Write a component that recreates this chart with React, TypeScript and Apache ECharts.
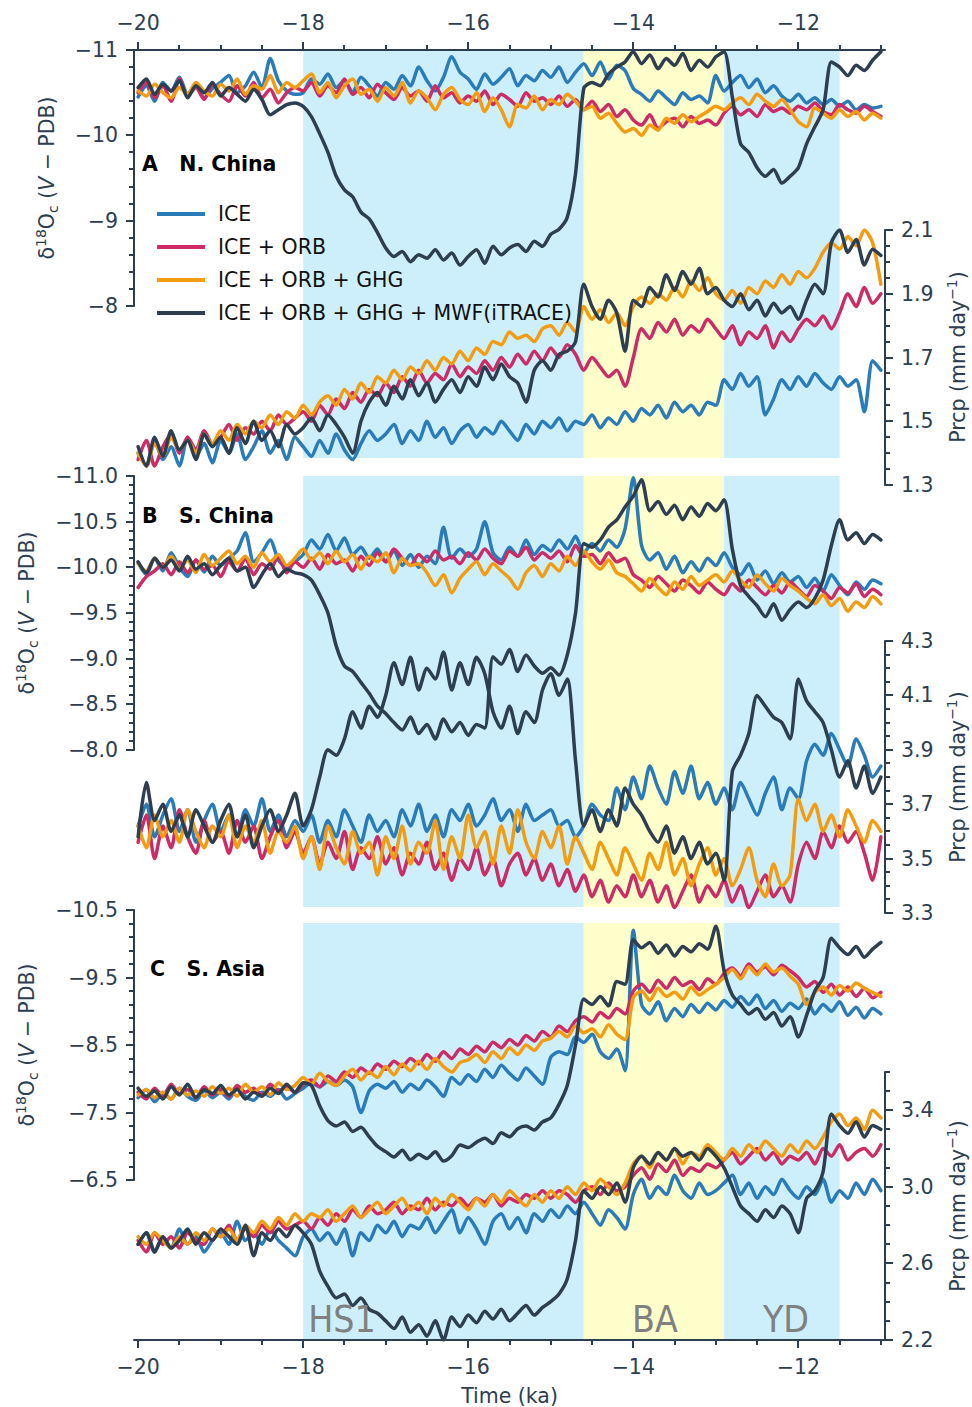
import React, { useEffect, useRef } from "react";
import * as echarts from "echarts";

// ---------- sampling times (ka) ----------
const TIME: number[] = Array.from({ length: 91 }, (_, i) => Math.round((-20 + 0.1 * i) * 10) / 10);

const NAMES = ["ICE", "ICE + ORB", "ICE + ORB + GHG", "ICE + ORB + GHG + MWF(iTRACE)"];

// ---------- Panel A: N. China ----------
const A_D_ICE = [-10.45,-10.58,-10.40,-10.62,-10.52,-10.68,-10.48,-10.60,-10.44,-10.55,
-10.62,-10.70,-10.50,-10.58,-10.74,-10.56,-10.90,-10.64,-10.52,-10.48,
-10.50,-10.66,-10.60,-10.72,-10.56,-10.64,-10.50,-10.68,-10.58,-10.46,
-10.62,-10.54,-10.70,-10.58,-10.80,-10.64,-10.52,-10.68,-10.92,-10.74,
-10.66,-10.54,-10.72,-10.60,-10.68,-10.78,-10.58,-10.70,-10.64,-10.76,
-10.68,-10.80,-10.62,-10.74,-10.84,-10.70,-10.86,-10.66,-10.82,-10.76,
-10.55,-10.48,-10.40,-10.52,-10.44,-10.36,-10.50,-10.42,-10.46,-10.38,
-10.70,-10.52,-10.62,-10.70,-10.56,-10.66,-10.50,-10.58,-10.46,-10.40,
-10.48,-10.38,-10.44,-10.36,-10.42,-10.34,-10.40,-10.30,-10.36,-10.32,-10.34];
const A_D_ORB = [-10.50,-10.62,-10.44,-10.58,-10.40,-10.66,-10.46,-10.56,-10.42,-10.60,
-10.48,-10.40,-10.58,-10.46,-10.62,-10.44,-10.54,-10.38,-10.50,-10.56,
-10.52,-10.62,-10.46,-10.58,-10.50,-10.66,-10.48,-10.56,-10.44,-10.60,
-10.50,-10.42,-10.56,-10.46,-10.52,-10.40,-10.58,-10.44,-10.50,-10.38,
-10.46,-10.40,-10.52,-10.36,-10.48,-10.42,-10.34,-10.50,-10.40,-10.44,
-10.36,-10.46,-10.34,-10.42,-10.30,-10.40,-10.28,-10.36,-10.22,-10.30,
-10.18,-10.12,-10.24,-10.08,-10.16,-10.20,-10.10,-10.22,-10.14,-10.18,
-10.12,-10.26,-10.34,-10.24,-10.30,-10.22,-10.36,-10.28,-10.32,-10.26,
-10.34,-10.30,-10.38,-10.28,-10.24,-10.36,-10.30,-10.26,-10.34,-10.28,-10.22];
const A_D_GHG = [-10.52,-10.46,-10.60,-10.50,-10.44,-10.56,-10.48,-10.62,-10.52,-10.46,
-10.60,-10.52,-10.66,-10.48,-10.58,-10.54,-10.70,-10.50,-10.62,-10.56,
-10.64,-10.72,-10.50,-10.62,-10.44,-10.58,-10.66,-10.48,-10.54,-10.40,
-10.56,-10.46,-10.62,-10.38,-10.52,-10.44,-10.30,-10.48,-10.56,-10.42,
-10.36,-10.50,-10.28,-10.44,-10.30,-10.10,-10.36,-10.32,-10.46,-10.30,
-10.42,-10.36,-10.48,-10.40,-10.30,-10.34,-10.20,-10.26,-10.14,-10.04,
-10.08,-10.00,-10.12,-10.06,-10.20,-10.14,-10.24,-10.16,-10.22,-10.28,
-10.34,-10.30,-10.38,-10.44,-10.36,-10.48,-10.40,-10.34,-10.42,-10.30,
-10.16,-10.10,-10.32,-10.26,-10.20,-10.30,-10.22,-10.28,-10.18,-10.26,-10.20];
const A_D_MWF = [-10.56,-10.66,-10.48,-10.60,-10.52,-10.64,-10.44,-10.58,-10.50,-10.62,
-10.46,-10.56,-10.48,-10.40,-10.54,-10.42,-10.24,-10.30,-10.36,-10.38,
-10.34,-10.22,-10.02,-9.80,-9.52,-9.36,-9.28,-9.10,-9.02,-8.86,
-8.68,-8.58,-8.64,-8.52,-8.60,-8.56,-8.66,-8.54,-8.62,-8.48,
-8.58,-8.66,-8.50,-8.70,-8.60,-8.68,-8.72,-8.64,-8.76,-8.70,
-8.84,-8.90,-9.04,-9.55,-10.55,-10.62,-10.58,-10.72,-10.80,-10.86,
-10.98,-10.84,-10.94,-10.78,-10.90,-10.82,-10.96,-10.76,-10.88,-10.80,
-10.92,-10.98,-10.45,-9.90,-9.80,-9.62,-9.52,-9.60,-9.44,-9.52,
-9.62,-9.90,-10.10,-10.30,-10.86,-10.80,-10.70,-10.82,-10.76,-10.88,-10.98];
const A_P_ICE = [1.40,1.36,1.44,1.38,1.42,1.36,1.45,1.39,1.43,1.37,
1.44,1.40,1.46,1.38,1.42,1.47,1.40,1.44,1.38,1.45,
1.42,1.39,1.44,1.40,1.46,1.41,1.38,1.43,1.47,1.44,
1.46,1.49,1.43,1.47,1.44,1.50,1.45,1.48,1.43,1.47,
1.49,1.45,1.48,1.46,1.50,1.47,1.44,1.49,1.46,1.50,
1.48,1.51,1.47,1.50,1.49,1.52,1.48,1.51,1.49,1.53,
1.50,1.54,1.52,1.55,1.51,1.56,1.53,1.55,1.52,1.56,
1.55,1.63,1.60,1.65,1.61,1.64,1.52,1.57,1.63,1.60,
1.64,1.61,1.65,1.62,1.60,1.64,1.61,1.63,1.53,1.69,1.66];
const A_P_ORB = [1.38,1.44,1.36,1.42,1.46,1.40,1.45,1.41,1.47,1.43,
1.45,1.49,1.44,1.48,1.46,1.50,1.47,1.52,1.49,1.51,
1.53,1.50,1.55,1.52,1.57,1.54,1.59,1.56,1.60,1.58,
1.62,1.59,1.64,1.61,1.66,1.62,1.65,1.63,1.68,1.64,
1.67,1.65,1.69,1.66,1.70,1.67,1.71,1.68,1.72,1.69,
1.73,1.70,1.74,1.71,1.66,1.70,1.67,1.64,1.66,1.61,
1.70,1.79,1.76,1.81,1.78,1.82,1.77,1.80,1.78,1.82,
1.79,1.76,1.80,1.74,1.78,1.76,1.80,1.73,1.78,1.75,
1.79,1.82,1.80,1.83,1.79,1.84,1.90,1.86,1.92,1.87,1.90];
const A_P_GHG = [1.40,1.36,1.43,1.39,1.45,1.41,1.44,1.40,1.46,1.43,
1.47,1.44,1.49,1.46,1.50,1.48,1.52,1.49,1.53,1.51,
1.55,1.52,1.56,1.58,1.55,1.60,1.57,1.62,1.59,1.64,
1.62,1.66,1.63,1.67,1.65,1.69,1.66,1.70,1.68,1.72,
1.69,1.73,1.71,1.75,1.74,1.78,1.76,1.77,1.75,1.79,
1.80,1.77,1.81,1.78,1.86,1.82,1.85,1.81,1.84,1.80,
1.86,1.89,1.87,1.90,1.88,1.92,1.89,1.94,1.91,1.95,
1.90,1.88,1.91,1.87,1.92,1.90,1.94,1.92,1.96,1.93,
1.97,1.95,1.98,2.03,2.06,2.04,2.08,2.05,2.10,2.06,1.93];
const A_P_MWF = [1.42,1.36,1.45,1.39,1.47,1.41,1.44,1.38,1.46,1.42,
1.45,1.40,1.48,1.43,1.50,1.44,1.47,1.42,1.49,1.46,
1.48,1.51,1.47,1.52,1.49,1.45,1.40,1.50,1.56,1.59,
1.55,1.61,1.57,1.63,1.58,1.62,1.56,1.60,1.63,1.59,
1.64,1.61,1.67,1.63,1.68,1.64,1.62,1.56,1.66,1.69,
1.66,1.71,1.72,1.75,1.93,1.86,1.82,1.88,1.84,1.72,
1.88,1.86,1.92,1.89,1.96,1.91,1.97,1.93,1.98,1.90,
1.92,1.88,1.86,1.90,1.85,1.88,1.83,1.87,1.84,1.86,
1.82,1.88,1.93,1.90,2.06,2.10,2.03,2.07,1.99,2.04,2.02];

// ---------- Panel B: S. China ----------
const B_D_ICE = [-10.05,-9.92,-10.10,-9.96,-10.16,-10.00,-9.90,-10.08,-9.95,-10.12,
-10.02,-10.10,-10.18,-10.38,-10.06,-10.16,-10.30,-10.08,-10.00,-10.06,
-10.14,-10.30,-10.20,-10.36,-10.18,-10.32,-10.14,-10.22,-10.10,-10.20,
-10.06,-10.18,-10.02,-10.14,-10.00,-10.12,-10.04,-10.44,-10.10,-10.20,
-10.12,-10.20,-10.50,-10.16,-10.08,-10.22,-10.12,-10.30,-10.14,-10.24,
-10.18,-10.30,-10.20,-10.34,-10.16,-10.26,-10.18,-10.30,-10.22,-10.42,
-10.98,-10.24,-10.08,-10.16,-9.98,-10.12,-9.94,-10.06,-9.96,-10.10,
-10.02,-10.16,-10.00,-9.92,-10.04,-9.86,-9.96,-9.82,-9.94,-9.84,
-9.90,-9.78,-9.88,-9.74,-9.92,-9.80,-9.70,-9.84,-9.76,-9.86,-9.82];
const B_D_ORB = [-9.78,-9.90,-9.96,-10.04,-9.92,-10.06,-9.94,-10.08,-9.98,-10.02,
-9.90,-10.06,-9.96,-10.10,-9.92,-10.04,-9.98,-10.12,-9.94,-10.06,
-10.00,-10.10,-9.98,-10.14,-10.04,-10.08,-9.96,-10.12,-10.02,-10.16,
-10.06,-10.20,-10.10,-10.02,-10.14,-10.06,-10.18,-10.08,-10.12,-10.04,
-10.16,-10.08,-10.20,-10.10,-10.04,-10.18,-10.12,-10.22,-10.08,-10.16,
-10.10,-10.18,-10.06,-10.24,-10.12,-10.14,-10.04,-10.16,-10.06,-10.10,
-9.92,-9.86,-9.78,-9.90,-9.82,-9.74,-9.86,-9.80,-9.72,-9.84,
-9.76,-9.70,-9.82,-9.74,-9.86,-9.78,-9.70,-9.80,-9.72,-9.84,
-9.76,-9.68,-9.80,-9.74,-9.66,-9.78,-9.72,-9.82,-9.68,-9.76,-9.70];
const B_D_GHG = [-10.04,-9.96,-10.10,-10.00,-10.12,-9.98,-10.08,-9.94,-10.14,-10.02,
-10.10,-10.18,-10.04,-10.12,-10.00,-10.16,-10.06,-10.14,-10.02,-10.10,
-10.20,-10.08,-10.16,-10.04,-10.18,-10.06,-10.14,-9.98,-10.12,-10.06,
-10.16,-9.94,-10.10,-10.02,-10.04,-9.94,-9.80,-9.92,-9.72,-9.88,
-9.98,-10.06,-9.92,-10.04,-9.96,-9.88,-9.76,-9.94,-10.02,-9.90,
-10.04,-9.96,-10.12,-10.02,-10.18,-10.06,-9.98,-10.08,-9.94,-9.90,
-9.82,-9.74,-9.88,-9.78,-9.70,-9.84,-9.76,-9.90,-9.80,-9.86,
-9.92,-9.84,-9.96,-9.86,-9.78,-9.92,-9.82,-9.74,-9.88,-9.80,
-9.74,-9.66,-9.60,-9.70,-9.58,-9.66,-9.52,-9.62,-9.56,-9.68,-9.60];
const B_D_MWF = [-10.06,-9.94,-10.10,-10.00,-10.08,-9.96,-10.12,-9.98,-10.04,-9.92,
-10.02,-10.10,-9.96,-10.00,-9.78,-9.92,-10.04,-9.90,-9.98,-9.94,
-9.92,-9.86,-9.70,-9.50,-9.14,-8.92,-8.86,-8.74,-8.62,-8.48,
-8.40,-8.30,-8.22,-8.36,-8.18,-8.28,-8.12,-8.34,-8.20,-8.30,
-8.16,-8.28,-8.24,-9.02,-8.94,-9.10,-8.86,-9.04,-8.92,-8.84,
-8.90,-8.82,-9.04,-9.50,-10.26,-10.22,-10.30,-10.44,-10.52,-10.66,
-10.78,-10.96,-10.62,-10.72,-10.58,-10.68,-10.52,-10.66,-10.56,-10.70,
-10.62,-10.74,-10.20,-9.80,-9.68,-9.58,-9.46,-9.60,-9.42,-9.54,
-9.62,-9.56,-9.66,-9.86,-10.24,-10.52,-10.30,-10.38,-10.26,-10.36,-10.30];
const B_P_ICE = [3.62,3.70,3.58,3.66,3.72,3.60,3.68,3.56,3.64,3.70,
3.60,3.66,3.58,3.68,3.62,3.72,3.60,3.66,3.58,3.64,
3.60,3.66,3.56,3.64,3.58,3.68,3.62,3.56,3.66,3.60,
3.64,3.58,3.68,3.62,3.70,3.60,3.66,3.58,3.68,3.64,
3.70,3.62,3.66,3.72,3.64,3.68,3.60,3.70,3.64,3.66,
3.68,3.62,3.64,3.58,3.62,3.70,3.66,3.64,3.76,3.68,
3.80,3.72,3.84,3.76,3.70,3.82,3.74,3.84,3.72,3.78,
3.70,3.76,3.68,3.78,3.72,3.66,3.74,3.80,3.68,3.76,
3.72,3.86,3.92,3.88,3.96,3.90,3.84,3.94,3.88,3.80,3.84];
const B_P_ORB = [3.56,3.66,3.50,3.62,3.54,3.68,3.58,3.52,3.64,3.56,
3.60,3.52,3.64,3.56,3.62,3.50,3.58,3.64,3.54,3.60,
3.52,3.58,3.48,3.56,3.50,3.60,3.46,3.54,3.50,3.58,
3.48,3.54,3.44,3.52,3.48,3.56,3.46,3.52,3.42,3.50,
3.46,3.54,3.44,3.50,3.40,3.48,3.52,3.44,3.50,3.42,
3.48,3.40,3.46,3.38,3.44,3.36,3.42,3.34,3.40,3.36,
3.44,3.36,3.42,3.34,3.40,3.32,3.38,3.44,3.34,3.40,
3.36,3.42,3.34,3.40,3.32,3.38,3.44,3.36,3.40,3.34,
3.48,3.56,3.50,3.60,3.54,3.62,3.56,3.60,3.52,3.42,3.58];
const B_P_GHG = [3.62,3.54,3.66,3.58,3.64,3.56,3.68,3.60,3.54,3.62,
3.58,3.66,3.54,3.62,3.56,3.64,3.52,3.60,3.56,3.62,
3.50,3.58,3.46,3.62,3.54,3.48,3.60,3.52,3.56,3.44,
3.58,3.50,3.62,3.48,3.56,3.52,3.64,3.46,3.58,3.50,
3.66,3.54,3.60,3.48,3.62,3.52,3.68,3.56,3.50,3.60,
3.54,3.62,3.48,3.58,3.52,3.46,3.56,3.50,3.44,3.54,
3.48,3.42,3.52,3.46,3.56,3.44,3.50,3.40,3.48,3.54,
3.44,3.50,3.40,3.46,3.54,3.42,3.36,3.48,3.40,3.44,
3.72,3.64,3.70,3.60,3.66,3.58,3.68,3.62,3.56,3.64,3.60];
const B_P_MWF = [3.58,3.78,3.64,3.70,3.60,3.66,3.58,3.68,3.62,3.56,
3.64,3.70,3.58,3.66,3.54,3.62,3.68,3.60,3.66,3.74,
3.62,3.68,3.80,3.90,3.88,3.94,4.04,3.98,4.06,4.02,
4.10,4.22,4.14,4.24,4.12,4.20,4.16,4.26,4.12,4.22,
4.14,4.24,4.18,4.04,3.98,4.06,3.96,4.04,4.00,4.12,
4.18,4.10,4.16,3.86,3.62,3.68,3.60,3.68,3.62,3.76,
3.70,3.66,3.60,3.56,3.62,3.52,3.58,3.50,3.56,3.48,
3.52,3.42,3.82,3.88,3.96,4.10,4.06,4.02,4.00,3.94,
4.16,4.08,4.04,4.00,3.90,3.80,3.86,3.76,3.84,3.74,3.80];

// ---------- Panel C: S. Asia ----------
const C_D_ICE = [-7.72,-7.84,-7.66,-7.78,-7.70,-7.86,-7.74,-7.68,-7.82,-7.72,
-7.80,-7.70,-7.86,-7.74,-7.68,-7.80,-7.74,-7.84,-7.70,-7.78,
-7.86,-7.94,-7.88,-7.96,-7.90,-7.98,-7.88,-7.50,-7.82,-7.92,
-7.86,-7.96,-7.80,-7.92,-7.84,-7.98,-7.88,-7.74,-8.02,-7.92,
-8.06,-7.96,-8.14,-8.02,-8.20,-8.08,-7.98,-8.16,-8.04,-7.92,
-8.32,-8.40,-8.36,-8.62,-8.54,-8.66,-8.40,-8.30,-8.44,-8.12,
-10.20,-9.10,-8.96,-9.14,-8.86,-9.04,-8.92,-9.10,-8.98,-9.12,
-9.02,-9.16,-9.06,-9.22,-9.10,-9.24,-9.04,-9.16,-9.00,-9.12,
-9.04,-9.18,-8.96,-9.10,-9.00,-9.14,-8.94,-9.06,-8.90,-9.04,-8.96];
const C_D_ORB = [-7.80,-7.70,-7.86,-7.74,-7.92,-7.78,-7.84,-7.72,-7.88,-7.76,
-7.84,-7.74,-7.90,-7.80,-7.86,-7.76,-7.92,-7.82,-7.88,-7.80,
-7.92,-7.98,-7.88,-8.04,-7.96,-8.10,-8.02,-8.16,-8.08,-8.22,
-8.14,-8.26,-8.18,-8.30,-8.22,-8.36,-8.26,-8.40,-8.30,-8.44,
-8.36,-8.48,-8.40,-8.54,-8.46,-8.58,-8.50,-8.64,-8.56,-8.70,
-8.62,-8.78,-8.70,-8.86,-8.92,-8.84,-8.98,-8.90,-9.04,-8.96,
-9.30,-9.40,-9.28,-9.46,-9.34,-9.50,-9.38,-9.44,-9.32,-9.48,
-9.40,-9.56,-9.64,-9.52,-9.70,-9.58,-9.66,-9.54,-9.68,-9.60,
-9.50,-9.36,-9.44,-9.28,-9.40,-9.24,-9.36,-9.22,-9.34,-9.20,-9.28];
const C_D_GHG = [-7.76,-7.84,-7.72,-7.80,-7.70,-7.86,-7.76,-7.82,-7.74,-7.88,
-7.78,-7.86,-7.74,-7.92,-7.80,-7.88,-7.76,-7.94,-7.84,-7.90,
-8.02,-7.92,-8.08,-7.96,-7.90,-8.04,-8.14,-7.98,-8.10,-8.02,
-8.18,-8.06,-8.22,-8.12,-8.26,-8.14,-8.30,-8.18,-8.10,-8.24,
-8.28,-8.36,-8.24,-8.40,-8.30,-8.46,-8.36,-8.50,-8.42,-8.56,
-8.60,-8.70,-8.62,-8.78,-8.68,-8.74,-8.62,-8.80,-8.66,-8.58,
-9.20,-9.30,-9.16,-9.34,-9.22,-9.28,-9.18,-9.36,-9.24,-9.32,
-9.40,-9.50,-9.62,-9.48,-9.66,-9.54,-9.70,-9.58,-9.64,-9.52,
-9.40,-9.10,-9.28,-9.36,-9.24,-9.38,-9.30,-9.42,-9.34,-9.28,-9.22];
const C_D_MWF = [-7.86,-7.74,-7.82,-7.70,-7.88,-7.76,-7.92,-7.72,-7.84,-7.78,
-7.90,-7.76,-7.84,-7.70,-7.80,-7.74,-7.86,-7.78,-7.92,-7.80,
-7.94,-7.90,-7.60,-7.38,-7.30,-7.36,-7.22,-7.28,-7.14,-7.00,
-6.92,-6.84,-6.94,-6.80,-6.88,-6.82,-6.92,-6.78,-6.86,-7.02,
-6.98,-7.06,-7.12,-7.04,-7.20,-7.14,-7.26,-7.30,-7.24,-7.36,
-7.42,-7.62,-7.90,-8.50,-9.18,-9.10,-9.22,-9.08,-9.44,-9.40,
-10.06,-9.94,-10.02,-9.86,-9.98,-9.82,-9.96,-9.88,-10.00,-9.92,
-10.26,-9.60,-9.24,-9.10,-8.96,-9.04,-8.88,-8.98,-8.78,-8.92,
-8.62,-8.94,-9.30,-9.50,-10.08,-9.94,-9.84,-9.96,-9.80,-9.92,-10.02];
const C_P_ICE = [2.70,2.76,2.66,2.74,2.68,2.78,2.70,2.74,2.66,2.72,
2.76,2.70,2.82,2.72,2.76,2.70,2.78,2.72,2.68,2.64,
2.74,2.78,2.72,2.76,2.70,2.78,2.64,2.76,2.72,2.80,
2.76,2.82,2.74,2.80,2.78,2.84,2.76,2.82,2.88,2.76,
2.84,2.78,2.70,2.82,2.86,2.78,2.84,2.76,2.86,2.82,
2.88,2.84,2.90,2.86,2.92,2.86,2.80,2.88,2.84,2.78,
2.96,3.04,2.94,3.00,2.96,3.06,2.98,2.94,3.02,2.96,
2.98,3.02,3.06,2.96,3.02,2.94,3.00,2.96,3.04,2.98,
2.94,3.00,2.96,3.04,2.92,2.98,2.94,3.02,2.96,3.04,2.98];
const C_P_ORB = [2.72,2.66,2.76,2.70,2.74,2.68,2.76,2.72,2.70,2.78,
2.74,2.80,2.72,2.78,2.74,2.80,2.76,2.82,2.78,2.80,
2.82,2.78,2.84,2.80,2.86,2.82,2.88,2.84,2.90,2.86,
2.88,2.92,2.86,2.90,2.88,2.94,2.88,2.92,2.90,2.94,
2.90,2.94,2.92,2.96,2.90,2.94,2.92,2.96,2.94,2.98,
2.94,2.98,2.96,2.92,2.98,3.00,2.96,3.02,2.98,3.00,
3.06,3.10,3.04,3.12,3.08,3.14,3.06,3.10,3.08,3.12,
3.10,3.14,3.18,3.12,3.16,3.20,3.14,3.18,3.12,3.16,
3.14,3.18,3.12,3.20,3.16,3.22,3.14,3.18,3.20,3.16,3.22];
const C_P_GHG = [2.74,2.70,2.76,2.72,2.68,2.74,2.70,2.76,2.72,2.78,
2.74,2.78,2.72,2.80,2.76,2.82,2.78,2.84,2.80,2.86,
2.82,2.86,2.84,2.88,2.82,2.86,2.90,2.84,2.88,2.92,
2.86,2.90,2.94,2.88,2.92,2.86,2.94,2.90,2.96,2.92,
2.88,2.94,2.90,2.96,2.92,2.98,2.94,2.90,2.96,2.92,
2.98,2.94,3.00,2.96,3.02,2.98,3.04,3.00,2.96,3.02,
3.12,3.16,3.10,3.18,3.14,3.20,3.12,3.18,3.16,3.22,
3.18,3.14,3.20,3.16,3.22,3.18,3.24,3.20,3.16,3.22,
3.18,3.24,3.20,3.26,3.34,3.38,3.32,3.36,3.30,3.40,3.36];
const C_P_MWF = [2.70,2.76,2.66,2.74,2.68,2.72,2.78,2.70,2.76,2.72,
2.78,2.74,2.70,2.80,2.64,2.76,2.72,2.78,2.74,2.80,
2.76,2.70,2.56,2.48,2.42,2.44,2.38,2.42,2.36,2.34,
2.30,2.26,2.32,2.24,2.28,2.22,2.30,2.20,2.32,2.27,
2.33,2.29,2.35,2.31,2.36,2.30,2.34,2.38,2.33,2.37,
2.40,2.44,2.52,2.72,2.98,2.94,3.00,2.96,3.02,2.92,
3.10,3.16,3.12,3.18,3.14,3.20,3.16,3.18,3.14,3.20,
3.16,3.10,3.00,2.90,2.86,2.82,2.88,2.84,2.90,2.86,
2.76,2.94,2.98,3.08,3.38,3.32,3.28,3.34,3.26,3.32,3.30];

// ---------- periods ----------
const PERIOD_NAMES = ["HS1", "BA", "YD"];
const PERIOD_START = [-18, -14.6, -12.9];
const PERIOD_END = [-14.6, -12.9, -11.5];

// ---------- tick labels ----------
const X_MAJOR = [-20, -18, -16, -14, -12];
const A_D_MAJOR = [-11, -10, -9, -8];
const A_P_MAJOR = [1.3, 1.5, 1.7, 1.9, 2.1];
const B_D_MAJOR = [-11, -10.5, -10, -9.5, -9, -8.5, -8];
const B_P_MAJOR = [3.3, 3.5, 3.7, 3.9, 4.1, 4.3];
const C_D_MAJOR = [-10.5, -9.5, -8.5, -7.5, -6.5];
const C_P_MAJOR = [2.2, 2.6, 3.0, 3.4];

// ---------- styles ----------
const AX = "#2c3e50";
const FONT = "DejaVu Sans";
const FS = 20.5;
const COLORS = ["#2a7bb9", "#cc2b66", "#f39c12", "#2c3e50"];
const PERIOD_COLORS = ["#cdeffc", "#ffffcc", "#cdeffc"];
const LW = 3.5;

function steps(min: number, max: number, step: number): number[] {
  const n = Math.round((max - min) / step);
  const out: number[] = [];
  for (let i = 0; i <= n; i++) out.push(Math.round((min + i * step) * 1000) / 1000);
  return out;
}
function minorOf(min: number, max: number, step: number, major: number[]): number[] {
  return steps(min, max, step).filter((v) => !major.some((m) => Math.abs(m - v) < 1e-6));
}
const fmt = (v: number, d: number) => Number(v).toFixed(d).replace("-", "\u2212");

const X_MIN = -20.05, X_MAX = -10.95;
const L = 134, R = 87, W = 972;
const GRID_BOXES = [
  { top: 50, height: 408 },
  { top: 476, height: 431 },
  { top: 923, height: 417 },
  { top: 50, height: 256 },
  { top: 230, height: 255 },
  { top: 476, height: 274 },
  { top: 641, height: 272 },
  { top: 910, height: 270 },
  { top: 1072, height: 268 },
];

export default function App() {
  const ref = useRef<HTMLDivElement>(null);
  useEffect(() => {
    document.body.style.margin = "0";
    const chart = echarts.init(ref.current!, null, { renderer: "svg" });

    const grids: any[] = GRID_BOXES.map((g) => ({ left: L, right: R, top: g.top, height: g.height, containLabel: false }));

    const lineStyleAx = { color: AX, width: 2 };
    const xAxes: any[] = [];
    for (let g = 0; g < 9; g++) {
      if (g === 0 || g === 2) {
        const top = g === 0;
        xAxes.push({
          type: "value", gridIndex: g, min: X_MIN, max: X_MAX, position: top ? "top" : "bottom", z: 5,
          axisLine: { show: true, onZero: false, lineStyle: lineStyleAx },
          axisTick: { show: false },
          axisLabel: { show: true, customValues: X_MAJOR, formatter: (v: number) => fmt(v, 0), color: AX, fontSize: FS, fontFamily: FONT, margin: top ? 17 : 16 },
          splitLine: { show: false },
          name: top ? "" : "Time (ka)",
          nameLocation: "middle", nameGap: 45,
          nameTextStyle: { color: AX, fontSize: FS, fontFamily: FONT },
        });
      } else {
        xAxes.push({ type: "value", gridIndex: g, min: X_MIN, max: X_MAX, show: false, axisLine: { onZero: false } });
      }
    }

    const yAxes: any[] = [];
    for (let g = 0; g < 3; g++) yAxes.push({ type: "value", gridIndex: g, min: 0, max: 1, show: false, axisLine: { onZero: false } });

    const tickSpecs: any[] = [];
    const addY = (g: number, min: number, max: number, inverse: boolean, position: string, major: number[], minorStep: number, dec: number) => {
      const idx = yAxes.length;
      yAxes.push({
        type: "value", gridIndex: g, min, max, inverse, position, z: 5,
        axisLine: { show: true, onZero: false, lineStyle: lineStyleAx },
        axisTick: { show: false },
        axisLabel: { show: true, customValues: major, formatter: (v: number) => fmt(v, dec), color: AX, fontSize: FS, fontFamily: FONT, margin: 16 },
        splitLine: { show: false },
      });
      tickSpecs.push({ dim: "y", grid: g, axis: idx, min, max, inverse, side: position === "left" ? -1 : 1, major, minor: minorOf(min, max, minorStep, major) });
      return idx;
    };

    const panels = [
      { d: [-11, -8, A_D_MAJOR, 0.2, 0], p: [1.3, 2.1, A_P_MAJOR, 0.05, 1], dData: [A_D_ICE, A_D_ORB, A_D_GHG, A_D_MWF], pData: [A_P_ICE, A_P_ORB, A_P_GHG, A_P_MWF] },
      { d: [-11, -8, B_D_MAJOR, 0.1, 1], p: [3.3, 4.3, B_P_MAJOR, 0.05, 1], dData: [B_D_ICE, B_D_ORB, B_D_GHG, B_D_MWF], pData: [B_P_ICE, B_P_ORB, B_P_GHG, B_P_MWF] },
      { d: [-10.5, -6.5, C_D_MAJOR, 0.2, 1], p: [2.2, 3.6, C_P_MAJOR, 0.1, 1], dData: [C_D_ICE, C_D_ORB, C_D_GHG, C_D_MWF], pData: [C_P_ICE, C_P_ORB, C_P_GHG, C_P_MWF] },
    ];

    const series: any[] = [];
    for (let g = 0; g < 3; g++) {
      series.push({
        type: "line", xAxisIndex: g, yAxisIndex: g, data: [[X_MIN, 0.5]], symbol: "none",
        lineStyle: { opacity: 0 }, silent: true, z: 1,
        markArea: {
          silent: true,
          data: PERIOD_START.map((s, i) => [
            { xAxis: s, itemStyle: { color: PERIOD_COLORS[i], opacity: 1 } },
            { xAxis: PERIOD_END[i] },
          ]),
        },
      });
    }

    const mkLine = (name: string, color: string, xi: number, yi: number, arr: number[]) => ({
      type: "line", name, xAxisIndex: xi, yAxisIndex: yi,
      data: TIME.map((t, i) => [t, arr[i]]),
      symbol: "none", showSymbol: false, clip: true, silent: true, z: 3, smooth: 0.25,
      lineStyle: { width: LW, color, join: "round", cap: "round" }, itemStyle: { color },
    });

    panels.forEach((p: any, k) => {
      const dg = 3 + 2 * k, pg = 4 + 2 * k;
      const dY = addY(dg, p.d[0], p.d[1], true, "left", p.d[2], p.d[3], p.d[4]);
      const pY = addY(pg, p.p[0], p.p[1], false, "right", p.p[2], p.p[3], p.p[4]);
      p.dData.forEach((arr: number[], e: number) => series.push(mkLine(NAMES[e], COLORS[e], dg, dY, arr)));
      p.pData.forEach((arr: number[], e: number) => series.push(mkLine(NAMES[e], COLORS[e], pg, pY, arr)));
    });
    const xMinor = minorOf(-20, -11, 0.5, X_MAJOR);
    tickSpecs.push({ dim: "x", grid: 0, side: -1, major: X_MAJOR, minor: xMinor });
    tickSpecs.push({ dim: "x", grid: 2, side: 1, major: X_MAJOR, minor: xMinor });

    const richBase = { fontSize: FS, fontFamily: FONT, fill: AX, color: AX, lineHeight: 26 };
    const richSup = { fontSize: 14, fontFamily: FONT, fill: AX, color: AX, lineHeight: 14, verticalAlign: "top" };
    const richSub = { fontSize: 14, fontFamily: FONT, fill: AX, color: AX, lineHeight: 14, verticalAlign: "bottom" };
    const richIt = { ...richBase, fontStyle: "italic" };
    const dTitle = (x: number, y: number) => ({
      type: "text", x, y, rotation: Math.PI / 2, z: 100,
      style: {
        text: "{n|δ}{sup|18}{n|O}{sub|c}{n| (}{i|V}{n| − PDB)}",
        rich: { n: richBase, sup: richSup, sub: richSub, i: richIt },
        align: "center", verticalAlign: "middle", textAlign: "center", textVerticalAlign: "middle",
      },
    });
    const pTitle = (x: number, y: number) => ({
      type: "text", x, y, rotation: Math.PI / 2, z: 100,
      style: {
        text: "{n|Prcp (mm day}{sup|−1}{n|)}",
        rich: { n: richBase, sup: richSup },
        align: "center", verticalAlign: "middle", textAlign: "center", textVerticalAlign: "middle",
      },
    });
    const panelLabel = (x: number, y: number, text: string) => ({
      type: "text", x, y, z: 100,
      style: {
        text, fill: "#000", fontSize: FS, fontWeight: "bold", fontFamily: FONT,
        align: "left", verticalAlign: "middle", textAlign: "left", textVerticalAlign: "middle",
      },
    });
    const periodLabel = (x: number, text: string) => ({
      type: "text", x, y: 1319, z: 100, scaleX: 0.88,
      style: {
        text, fill: "#808080", fontSize: 38, fontFamily: FONT,
        align: "center", verticalAlign: "middle", textAlign: "center", textVerticalAlign: "middle",
      },
    });

    // axis tick marks: pixel positions come from the chart's own axes (convertToPixel),
    // with the grid geometry as a fallback
    const toPx = (s: any, v: number): number => {
      let r: any = null;
      try {
        if (s.dim === "y") r = chart.convertToPixel({ gridIndex: s.grid } as any, [X_MIN, v]);
        else r = chart.convertToPixel({ gridIndex: s.grid } as any, [v, 0.5]);
      } catch (e) { r = null; }
      const c = Array.isArray(r) ? Number(s.dim === "y" ? r[1] : r[0]) : NaN;
      if (isFinite(c)) return c;
      const box = GRID_BOXES[s.grid];
      if (s.dim === "y") {
        const f = (v - s.min) / (s.max - s.min);
        return s.inverse ? box.top + f * box.height : box.top + box.height - f * box.height;
      }
      return L + ((v - X_MIN) / (X_MAX - X_MIN)) * (W - L - R);
    };

    const TW = 2;
    const buildTicks = () => {
      const els: any[] = [];
      tickSpecs.forEach((s) => {
        const draw = (vals: number[], len: number) => {
          vals.forEach((v) => {
            const c = Math.round(toPx(s, v)) - TW / 2;
            if (s.dim === "y") {
              const x0 = s.side < 0 ? L - len : W - R;
              els.push({ type: "rect", z: 60, silent: true, shape: { x: x0, y: c, width: len, height: TW }, style: { fill: AX } });
            } else {
              const box = GRID_BOXES[s.grid];
              const y0 = s.side < 0 ? box.top - len : box.top + box.height;
              els.push({ type: "rect", z: 60, silent: true, shape: { x: c, y: y0, width: TW, height: len }, style: { fill: AX } });
            }
          });
        };
        draw(s.major, 8);
        draw(s.minor, 5);
      });
      return els;
    };

    const baseGraphic: any[] = [
      dTitle(47, 178), dTitle(27, 613), dTitle(27, 1045),
      pTitle(958, 357), pTitle(958, 777), pTitle(958, 1206),
      panelLabel(142, 164, "A   N. China"),
      panelLabel(142, 516, "B   S. China"),
      panelLabel(150, 969, "C   S. Asia"),
      periodLabel(342, PERIOD_NAMES[0]),
      periodLabel(655, PERIOD_NAMES[1]),
      periodLabel(786, PERIOD_NAMES[2]),
    ];

    const option: any = {
      animation: false,
      backgroundColor: "#ffffff",
      textStyle: { fontFamily: FONT },
      grid: grids,
      xAxis: xAxes,
      yAxis: yAxes,
      series,
      legend: {
        data: NAMES, orient: "vertical", left: 152, top: 197,
        itemWidth: 48, itemHeight: 4, itemGap: 9, icon: "rect", selectedMode: false,
        textStyle: { fontSize: FS, fontFamily: FONT, color: "#111", lineHeight: 24, padding: [0, 0, 0, 8] },
      },
    };
    chart.setOption(option);
    chart.setOption({ graphic: { elements: [...baseGraphic, ...buildTicks()] } });

    return () => chart.dispose();
  }, []);
  return <div ref={ref} style={{ position: "absolute", left: 0, top: 0, width: 972, height: 1407 }} />;
}
